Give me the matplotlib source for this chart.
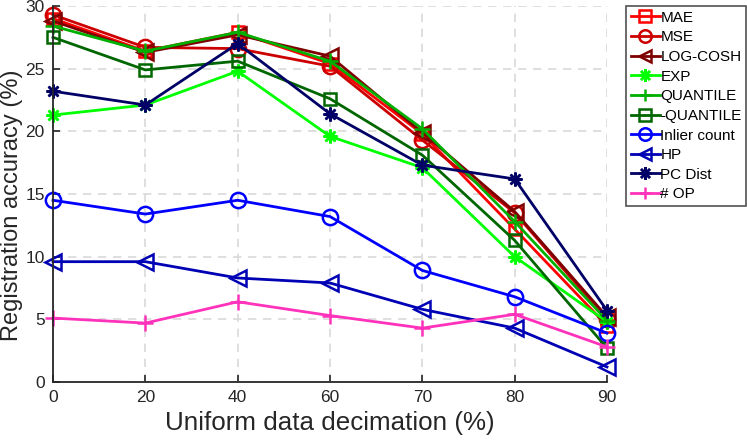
import matplotlib
matplotlib.use("Agg")
import matplotlib.pyplot as plt

plt.rcParams['font.family'] = ['Liberation Sans', 'DejaVu Sans']

# categories (evenly spaced on the axis)
decimation = ['0', '20', '40', '60', '70', '80', '90']
yticks = [0, 5, 10, 15, 20, 25, 30]

mae = [29.0, 26.4, 27.9, 25.4, 19.8, 12.2, 4.5]
mse = [29.3, 26.7, 26.6, 25.2, 19.3, 13.5, 5.0]
logcosh = [28.8, 26.3, 27.7, 26.0, 19.9, 13.6, 5.2]
exp_ = [21.3, 22.1, 24.8, 19.6, 17.1, 10.0, 4.8]
quantile = [28.4, 26.4, 27.9, 25.6, 20.2, 12.8, 4.9]
nquantile = [27.5, 24.9, 25.6, 22.6, 18.1, 11.3, 2.7]
inlier = [14.5, 13.4, 14.5, 13.2, 8.9, 6.8, 3.9]
hp = [9.6, 9.6, 8.3, 7.9, 5.8, 4.3, 1.2]
pcdist = [23.2, 22.1, 27.0, 21.4, 17.3, 16.2, 5.7]
op = [5.1, 4.7, 6.4, 5.3, 4.3, 5.4, 2.8]

labels = ['MAE', 'MSE', 'LOG-COSH', 'EXP', 'QUANTILE', '-QUANTILE',
          'Inlier count', 'HP', 'PC Dist', '# OP']
series = [mae, mse, logcosh, exp_, quantile, nquantile, inlier, hp, pcdist, op]
colors = ['#ff0000', '#cc0000', '#800000', '#00ff00', '#00b000', '#006600',
          '#0000ff', '#0000b4', '#000066', '#ff33bb']
markers = ['s', 'o', '<', (8, 2, 0), '+', 's', 'o', '<', (8, 2, 0), '+']
msizes = [9, 11, 12, 10, 12, 9, 11, 12, 10, 12]

xpos = list(range(len(decimation)))

fig = plt.figure(figsize=(7.47, 4.43), dpi=100)
ax = fig.add_axes([53/747, 1-382/443, (607-53)/747, (382-6)/443])

for y, lab, c, m, ms in zip(series, labels, colors, markers, msizes):
    ax.plot(xpos, y, color=c, marker=m, markersize=ms, markerfacecolor='none',
            markeredgecolor=c, markeredgewidth=1.8, linewidth=2, label=lab,
            clip_on=False)

ax.set_xlim(0, len(decimation) - 1)
ax.set_ylim(0, 30)
ax.set_xticks(xpos)
ax.set_xticklabels(decimation)
ax.set_yticks(yticks)
ax.grid(True, linestyle=(0, (5, 4)), color='#d9d9d9', linewidth=1.2)
ax.set_axisbelow(True)
for s in ['top', 'right']:
    ax.spines[s].set_visible(False)
for s in ['left', 'bottom']:
    ax.spines[s].set_color('#262626')
    ax.spines[s].set_linewidth(1.3)
ax.tick_params(direction='in', length=5, width=1.2, colors='#262626',
               labelsize=12.5, pad=6)
ax.set_xlabel('Uniform data decimation (%)', fontsize=18.7, color='#262626',
              labelpad=4)
ax.set_ylabel('Registration accuracy (%)', fontsize=17, color='#262626',
              labelpad=1)
ax.yaxis.set_label_coords(-0.055, 0.47)

leg = ax.legend(loc='upper left', bbox_to_anchor=(626/747, 1-6/443),
                bbox_transform=fig.transFigure, fontsize=11, frameon=True,
                fancybox=False, edgecolor='#262626', handlelength=1.9,
                handletextpad=0.05, borderpad=0.3, labelspacing=0.37,
                borderaxespad=0)
leg.get_frame().set_linewidth(1.2)
for h in leg.legend_handles:
    h.set_markersize(9)

fig.savefig('out.png', dpi=100)
